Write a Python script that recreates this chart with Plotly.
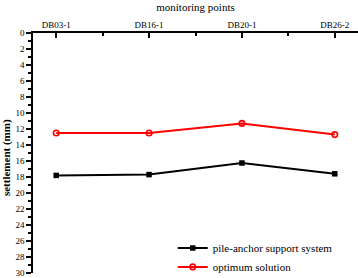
import plotly.graph_objects as go

categories = ["DB03-1", "DB16-1", "DB20-1", "DB26-2"]
pile_anchor = [17.8, 17.7, 16.25, 17.6]
optimum = [12.5, 12.5, 11.3, 12.7]
y_ticks = list(range(0, 31, 2))

xs = list(range(len(categories)))
font = "Liberation Serif"

fig = go.Figure()
fig.add_trace(go.Scatter(
    x=xs, y=pile_anchor, mode="lines+markers", name="pile-anchor support system",
    line=dict(color="black", width=2),
    marker=dict(symbol="square", size=5.5, color="black"),
))
fig.add_trace(go.Scatter(
    x=xs, y=optimum, mode="lines+markers", name="optimum solution",
    line=dict(color="#ff0000", width=2),
    marker=dict(symbol="circle-open", size=5.5, color="#ff0000", line=dict(width=1.6)),
))

fig.update_layout(
    width=358, height=278,
    margin=dict(l=33, r=0, t=33, b=5, autoexpand=False),
    paper_bgcolor="white", plot_bgcolor="white",
    font=dict(family=font, size=9, color="black"),
    showlegend=True,
    legend=dict(x=0.43, y=0.165, xanchor="left", yanchor="top",
                bgcolor="rgba(0,0,0,0)", font=dict(size=11, family=font, color="black"),
                itemwidth=30, tracegroupgap=0),
    xaxis=dict(
        side="top", range=[-0.25, 3.25], tickvals=xs, ticktext=categories,
        showline=True, linecolor="black", linewidth=1.5, mirror=False,
        ticks="inside", ticklen=5, tickwidth=1.5, tickcolor="black",
        showgrid=False, zeroline=False, automargin=False, ticklabeloverflow="allow",
        minor=dict(dtick=0.5, tick0=0.5, ticks="inside", ticklen=3, tickwidth=1.5, tickcolor="black", showgrid=False),
        title=dict(text="monitoring points", font=dict(size=11, family=font, color="black"), standoff=6),
        tickfont=dict(size=9, family=font, color="black"),
    ),
    yaxis=dict(
        range=[30, 0], tickvals=y_ticks, ticktext=[str(v) for v in y_ticks],
        showline=True, linecolor="black", linewidth=1.5,
        ticks="outside", ticklen=5, tickwidth=1.5, tickcolor="black",
        showgrid=False, zeroline=False, automargin=False, ticklabeloverflow="allow",
        minor=dict(dtick=1, tick0=1, ticks="outside", ticklen=3, tickwidth=1.5, tickcolor="black", showgrid=False),
        tickfont=dict(size=9, family=font, color="black"),
    ),
    annotations=[dict(
        text="settlement (mm)", textangle=-90, xref="paper", yref="paper",
        x=-0.083, y=0.479, xanchor="center", yanchor="middle", showarrow=False,
        font=dict(size=11, family=font, color="black", weight="bold"),
    )],
)

fig.write_html("out.html", config={"displayModeBar": False},
               post_script="document.body.style.margin='0';document.body.style.overflow='hidden';")
